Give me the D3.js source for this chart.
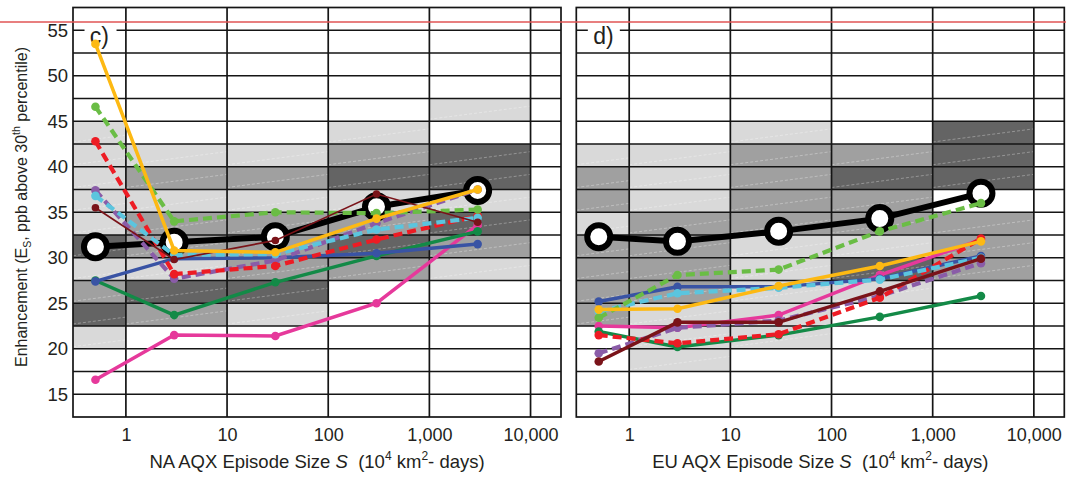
<!DOCTYPE html>
<html>
<head>
<meta charset="utf-8">
<script src="https://cdn.jsdelivr.net/npm/d3@7"></script>
<style>
  body { margin: 0; background: #fff; }
  text { font-family: "Liberation Sans", Arial, sans-serif; fill: #231f20; }
</style>
</head>
<body>
<div id="chart"></div>
<script>
// episode sizes (10^4 km2-days) where the points sit
var sizes = [0.5, 3, 30, 300, 3000];
var xTicks = [1, 10, 100, 1000, 10000];
var xTickLabels = ["1", "10", "100", "1,000", "10,000"];
var yTicks = [15, 20, 25, 30, 35, 40, 45, 50, 55];

// column edges for the background cells, rows are 2.5 ppb high
var colEdges = [0.3, 1, 10, 100, 1000, 10000, 20000];
// one string per column, bottom row (12.5) first: w white, L light, M mid, D dark
var naShade = ["wwwLDMLDLLLLLwwwww", "wwwwMDLMMLMLwwwwww", "wwwwLDMMMLMLwwwwww",
  "wwwwwwMDMLDMLwwwww", "wwwwwwLMDLDDwLwwww", "wwwwwwwwwwwwwwwwww"];
var euShade = ["wwwwMMMMLMMLwwwwww", "wwLLLMMMMLLLwwwwww", "wwwLLLLLMMMMLwwwww",
  "wwwwwLDLMMDMwwwwww", "wwwwwwMMMwDDDwwwww", "wwwwwwwwwwwwwwwwww"];

// NA series
var naBlack = [31.2, 31.7, 32.3, 35.6, 37.4];
var naYellow = [53.5, 30.8, 30.6, 34.3, 37.5];
var naLightGreen = [46.6, 34.0, 35.0, 34.9, 35.3];
var naRed = [42.8, 28.2, 29.1, 32.0, 34.6];
var naPurple = [37.4, 27.7, 29.7, 33.8, 37.5];
var naCyan = [36.8, 30.3, 30.4, 33.1, 34.4];
var naDarkRed = [35.5, 29.8, 31.9, 37.0, 33.9];
var naBlue = [27.4, 29.9, 30.0, 30.5, 31.5];
var naGreen = [27.5, 23.7, 27.3, 30.2, 32.9];
var naPink = [16.6, 21.5, 21.4, 25.0, 33.6];

// EU series
var euBlack = [32.3, 31.8, 32.9, 34.3, 37.1];
var euYellow = [24.3, 24.4, 26.9, 29.1, 31.8];
var euLightGreen = [23.4, 28.1, 28.7, 32.9, 36.0];
var euRed = [21.5, 20.6, 21.6, 25.6, 32.1];
var euPurple = [19.5, 22.3, 23.1, 25.8, 29.4];
var euCyan = [24.1, 26.1, 26.7, 27.6, 30.0];
var euDarkRed = [18.6, 22.9, 22.9, 26.3, 29.9];
var euBlue = [25.2, 26.8, 26.8, 27.7, 30.2];
var euGreen = [21.9, 20.2, 21.5, 23.5, 25.8];
var euPink = [22.5, 22.3, 23.7, 28.1, 32.0];

var shadeColor = { w: "#ffffff", L: "#d9d9d9", M: "#a0a0a0", D: "#646464" };

function makeSeries(p) {
  // drawing order: black underneath, colours on top
  return [
    { v: p.pink, color: "#e6399b" },
    { v: p.green, color: "#138a47" },
    { v: p.blue, color: "#3953a4" },
    { v: p.purple, color: "#8a5ca8", dash: true },
    { v: p.red, color: "#ed1c24", dash: true },
    { v: p.cyan, color: "#5bc5de", dash: true },
    { v: p.lightGreen, color: "#6abd45", dash: true },
    { v: p.darkRed, color: "#7a1319", thin: p.thinDark },
    { v: p.yellow, color: "#fdb913" }
  ];
}

var panels = [
  { x0: 73, x1: 561, label: "c)", region: "NA", shade: naShade, black: naBlack, yAxis: true,
    series: makeSeries({ pink: naPink, green: naGreen, blue: naBlue, purple: naPurple, red: naRed,
      cyan: naCyan, lightGreen: naLightGreen, darkRed: naDarkRed, yellow: naYellow, thinDark: true }) },
  { x0: 576.3, x1: 1064.3, label: "d)", region: "EU", shade: euShade, black: euBlack, yAxis: false,
    series: makeSeries({ pink: euPink, green: euGreen, blue: euBlue, purple: euPurple, red: euRed,
      cyan: euCyan, lightGreen: euLightGreen, darkRed: euDarkRed, yellow: euYellow, thinDark: false }) }
];

var W = 1066, H = 477;
var svg = d3.select("#chart").append("svg")
  .attr("width", W).attr("height", H);

var y = d3.scaleLinear().domain([12.5, 57.5]).range([417, 7.5]);
var rowStarts = d3.range(12.5, 57.5, 2.5);

panels.forEach(function (p) {
  var x = d3.scaleLog().domain([0.3, 20000]).range([p.x0, p.x1]);
  var g = svg.append("g");

  // shaded cells
  p.shade.forEach(function (col, ci) {
    rowStarts.forEach(function (r, ri) {
      var c = col[ri];
      if (c === "w") return;
      var cx0 = x(colEdges[ci]), cx1 = x(colEdges[ci + 1]);
      var cy0 = y(r + 2.5), cy1 = y(r);
      g.append("rect")
        .attr("x", cx0).attr("y", cy0)
        .attr("width", cx1 - cx0).attr("height", cy1 - cy0)
        .attr("fill", shadeColor[c]);
      // faint diagonal hatch line
      g.append("line")
        .attr("x1", cx0).attr("y1", cy1 - 2)
        .attr("x2", cx1).attr("y2", cy1 - 2 - 0.13 * (cx1 - cx0))
        .attr("stroke", "#fff").attr("stroke-opacity", 0.45)
        .attr("stroke-width", 0.7).attr("stroke-dasharray", "3,2");
    });
  });

  // horizontal grid lines
  g.append("g").selectAll("line")
    .data(d3.range(15, 57.5, 2.5))
    .enter().append("line")
    .attr("x1", p.x0).attr("x2", p.x1)
    .attr("y1", function (d) { return y(d); })
    .attr("y2", function (d) { return y(d); })
    .attr("stroke", "#151515").attr("stroke-width", 1.5);

  // vertical grid lines at decades
  g.append("g").selectAll("line")
    .data(xTicks)
    .enter().append("line")
    .attr("x1", function (d) { return x(d); })
    .attr("x2", function (d) { return x(d); })
    .attr("y1", y(57.5)).attr("y2", y(12.5))
    .attr("stroke", "#151515").attr("stroke-width", 1.7);

  // frame
  g.append("rect")
    .attr("x", p.x0).attr("y", y(57.5))
    .attr("width", p.x1 - p.x0).attr("height", y(12.5) - y(57.5))
    .attr("fill", "none").attr("stroke", "#151515").attr("stroke-width", 1.7);

  // panel label with white box over the gridline
  g.append("rect")
    .attr("x", x(0.39)).attr("y", y(56.6))
    .attr("width", 32).attr("height", 21).attr("fill", "#fff");
  g.append("text")
    .attr("x", x(0.44)).attr("y", y(53.5))
    .style("font-size", "23px")
    .text(p.label);

  // x axis
  var xa = g.append("g")
    .attr("transform", "translate(0," + y(12.5) + ")")
    .call(d3.axisBottom(x).tickValues(xTicks)
      .tickFormat(function (d, i) { return xTickLabels[i]; })
      .tickSize(0).tickPadding(11));
  xa.select(".domain").remove();
  xa.selectAll("text").style("font-size", "18px").attr("fill", "#231f20");

  // x title
  var xt = g.append("text")
    .attr("x", (p.x0 + p.x1) / 2).attr("y", 468)
    .attr("text-anchor", "middle")
    .style("font-size", "18.5px");
  xt.append("tspan").text(p.region + " AQX Episode Size ");
  xt.append("tspan").style("font-style", "italic").text("S");
  xt.append("tspan").text("\u00a0 (10");
  xt.append("tspan").attr("dy", -8).style("font-size", "12px").text("4");
  xt.append("tspan").attr("dy", 8).text(" km");
  xt.append("tspan").attr("dy", -8).style("font-size", "12px").text("2");
  xt.append("tspan").attr("dy", 8).text("- days)");

  // y axis (left panel only)
  if (p.yAxis) {
    var ya = g.append("g")
      .attr("transform", "translate(" + p.x0 + ",0)")
      .call(d3.axisLeft(y).tickValues(yTicks).tickSize(0).tickPadding(5));
    ya.select(".domain").remove();
    ya.selectAll("text").style("font-size", "18.5px").attr("fill", "#231f20");

    var yt = svg.append("text")
      .attr("transform", "translate(27," + 207 + ") rotate(-90)")
      .attr("text-anchor", "middle")
      .style("font-size", "16px");
    yt.append("tspan").text("Enhancement (E");
    yt.append("tspan").attr("dy", 4).style("font-size", "10.5px").text("S");
    yt.append("tspan").attr("dy", -4).text(", ppb above 30");
    yt.append("tspan").attr("dy", -7).style("font-size", "10.5px").text("th");
    yt.append("tspan").attr("dy", 7).text(" percentile)");
  }

  var line = d3.line()
    .x(function (d, i) { return x(sizes[i]); })
    .y(function (d) { return y(d); });

  // black reference line with big open circles
  g.append("path")
    .datum(p.black)
    .attr("d", line)
    .attr("fill", "none").attr("stroke", "#000").attr("stroke-width", 6);
  g.append("g").selectAll("circle")
    .data(p.black)
    .enter().append("circle")
    .attr("cx", function (d, i) { return x(sizes[i]); })
    .attr("cy", function (d) { return y(d); })
    .attr("r", 11.5)
    .attr("fill", "#fff").attr("stroke", "#000").attr("stroke-width", 6);

  // coloured series
  p.series.forEach(function (s) {
    g.append("path")
      .datum(s.v)
      .attr("d", line)
      .attr("fill", "none")
      .attr("stroke", s.color)
      .attr("stroke-width", s.thin ? 1.7 : (s.dash ? 4.2 : 3.5))
      .attr("stroke-dasharray", s.dash ? "9,5" : null);
    g.append("g").selectAll("circle")
      .data(s.v)
      .enter().append("circle")
      .attr("cx", function (d, i) { return x(sizes[i]); })
      .attr("cy", function (d) { return y(d); })
      .attr("r", s.thin ? 3.8 : 4.3)
      .attr("fill", s.color);
  });
});

// red horizontal line across the whole figure
svg.append("line")
  .attr("x1", 0).attr("x2", W)
  .attr("y1", y(55.9)).attr("y2", y(55.9))
  .attr("stroke", "#e05555").attr("stroke-width", 1.6);
</script>
</body>
</html>
